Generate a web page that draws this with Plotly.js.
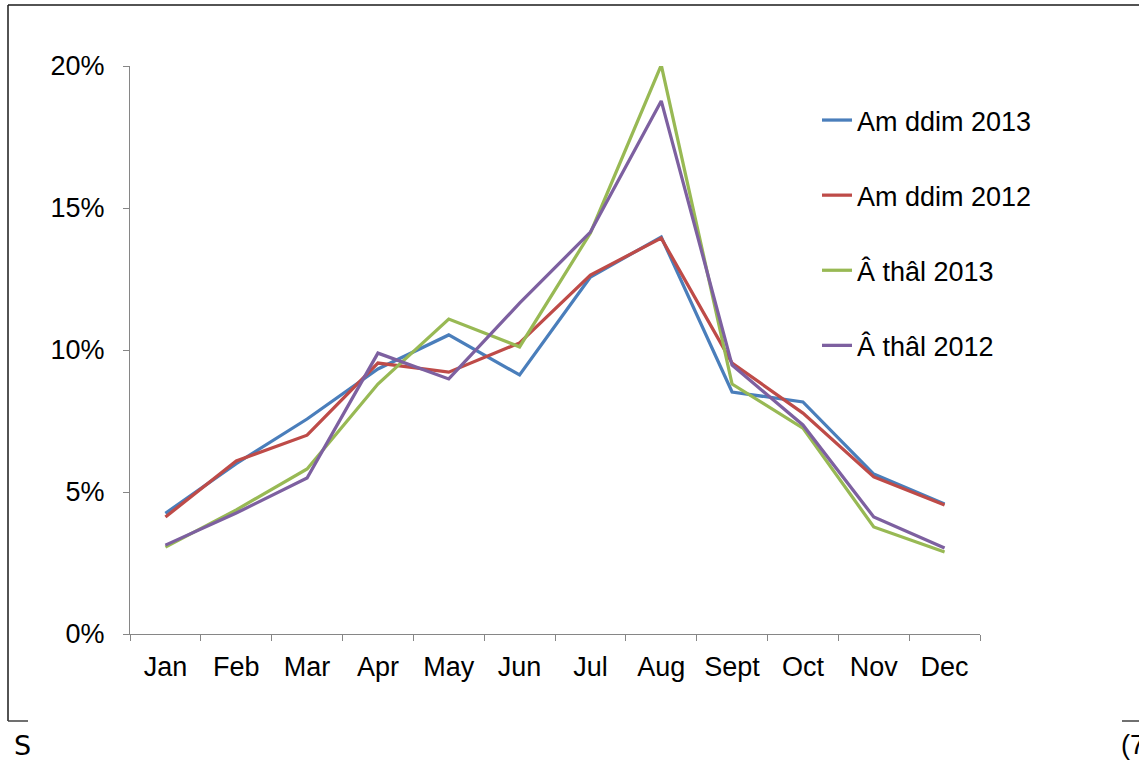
<!DOCTYPE html>
<html>
<head>
<meta charset="utf-8">
<script src="https://cdn.plot.ly/plotly-3.0.1.min.js"></script>
<style>html,body{margin:0;padding:0;background:#fff;}#chart{width:1139px;height:763px;}</style>
</head>
<body>
<div id="chart"></div>
<script>
const months = ["Jan","Feb","Mar","Apr","May","Jun","Jul","Aug","Sept","Oct","Nov","Dec"];
const seriesNames = ["Am ddim 2013","Am ddim 2012","Â thâl 2013","Â thâl 2012"];
const amDdim2013 = [0.0425,0.0600,0.0757,0.0933,0.1053,0.0912,0.1257,0.1398,0.0852,0.0817,0.0563,0.0458];
const amDdim2012 = [0.0412,0.0609,0.0700,0.0954,0.0922,0.1025,0.1264,0.1394,0.0954,0.0778,0.0553,0.0454];
const aThal2013  = [0.0306,0.0437,0.0581,0.0880,0.1109,0.1011,0.1412,0.2003,0.0880,0.0725,0.0377,0.0289];
const aThal2012  = [0.0313,0.0426,0.0549,0.0989,0.0898,0.1165,0.1415,0.1877,0.0947,0.0736,0.0412,0.0303];
const colors = ["#4A7EBB","#BE4B48","#98B954","#7D60A0"];
const allSeries = [amDdim2013, amDdim2012, aThal2013, aThal2012];

const traces = allSeries.map((vals, i) => ({
  type: "scatter",
  mode: "lines",
  x: months,
  y: vals,
  name: seriesNames[i],
  legendgroup: "g" + i,
  line: {color: colors[i], width: 3.25},
  hoverinfo: "x+y+name"
}));

// pixel helpers for paper coordinates (plot area 130..980 x, 66..634 y)
const px = v => (v - 130) / 850;
const py = v => (634 - v) / 568;

const borderColor = "#1a1a1a";
const layout = {
  width: 1139,
  height: 763,
  margin: {l: 130, r: 159, t: 66, b: 129, pad: 0},
  paper_bgcolor: "#ffffff",
  plot_bgcolor: "#ffffff",
  font: {family: "Liberation Sans, Arial, sans-serif", size: 27, color: "#000"},
  showlegend: true,
  legend: {
    x: px(817), y: py(96), xanchor: "left", yanchor: "top",
    traceorder: "grouped",
    tracegroupgap: 37,
    font: {size: 27, color: "#000"},
    bgcolor: "rgba(0,0,0,0)",
    itemwidth: 30
  },
  xaxis: {
    type: "category",
    range: [-0.5, 11.5],
    showline: true, linecolor: "#868686", linewidth: 1,
    ticks: "outside", tickson: "boundaries", ticklen: 6, tickcolor: "#868686",
    showgrid: false, zeroline: false,
    tickfont: {size: 27, color: "#000"},
    ticklabelstandoff: 9
  },
  yaxis: {
    range: [0, 0.2],
    tickvals: [0, 0.05, 0.10, 0.15, 0.20],
    tickformat: ".0%",
    showline: true, linecolor: "#868686", linewidth: 1,
    ticks: "outside", ticklen: 6, tickcolor: "#868686",
    showgrid: false, zeroline: false,
    tickfont: {size: 27, color: "#000"},
    ticklabelstandoff: 13
  },
  shapes: [
    {type: "line", xref: "paper", yref: "paper", x0: px(8), x1: px(8), y0: py(5), y1: py(721), line: {color: borderColor, width: 1.5}},
    {type: "line", xref: "paper", yref: "paper", x0: px(8), x1: px(1145), y0: py(5), y1: py(5), line: {color: borderColor, width: 1.5}},
    {type: "line", xref: "paper", yref: "paper", x0: px(8), x1: px(28), y0: py(721), y1: py(721), line: {color: "#404040", width: 1.5}},
    {type: "line", xref: "paper", yref: "paper", x0: px(1122), x1: px(1145), y0: py(721), y1: py(721), line: {color: "#404040", width: 1.5}}
  ],
  annotations: [
    {text: "S", xref: "paper", yref: "paper", x: px(12), y: py(745), xanchor: "left", yanchor: "middle", showarrow: false, font: {size: 27, color: "#000", family: "DejaVu Sans, sans-serif"}},
    {text: "(7", xref: "paper", yref: "paper", x: px(1119), y: py(745), xanchor: "left", yanchor: "middle", showarrow: false, font: {size: 27, color: "#000"}}
  ]
};

Plotly.newPlot("chart", traces, layout, {displayModeBar: false, staticPlot: true});
</script>
</body>
</html>
